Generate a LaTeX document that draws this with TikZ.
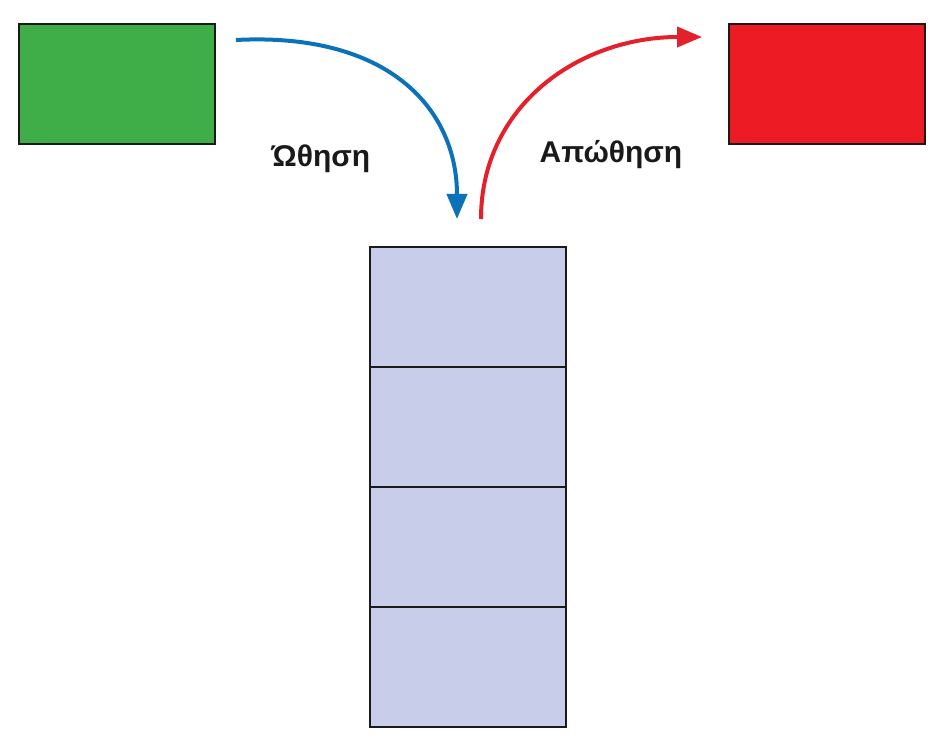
\documentclass[tikz,border=0pt]{standalone}
\usepackage{fontspec}
\setmainfont{Liberation Sans}
\usetikzlibrary{arrows.meta}
\definecolor{boxgreen}{HTML}{3FAE49}
\definecolor{boxred}{HTML}{ED1C24}
\definecolor{arrblue}{HTML}{0B72B9}
\definecolor{arrred}{HTML}{E4202A}
\definecolor{cellfill}{HTML}{C8CDE9}
\definecolor{edge}{HTML}{1A1A1A}
\begin{document}
\begin{tikzpicture}[x=1pt,y=-1pt,
  box/.style={draw=edge,line width=2pt,minimum width=196pt,minimum height=120pt,inner sep=0pt,outer sep=0pt},
  cell/.style={box,fill=cellfill},
  arr/.style={line width=4pt,-{Triangle[length=25pt,width=20pt]}},
  lbl/.style={font=\bfseries\fontsize{30}{35}\selectfont,text=edge}]
\useasboundingbox (0,0) rectangle (946,743);
\node[box,fill=boxgreen] (green) at (117,84) {};
\node[box,fill=boxred] (red) at (827,84) {};
\node[cell] (c1) at (468,307) {};
\node[cell] (c2) at (468,427) {};
\node[cell] (c3) at (468,547) {};
\node[cell] (c4) at (468,667) {};
\coordinate (pushs) at (236,40);
\coordinate (pushe) at (457,219);
\coordinate (pops) at (481,219);
\coordinate (pope) at (702,37);
\draw[arr,arrblue] (pushs) .. controls (390,32) and (457,110) .. (pushe);
\draw[arr,arrred] (pops) .. controls (481,105) and (580,37) .. (pope);
\node[lbl] (push) at (321,159) {Ώθηση};
\node[lbl] (pop) at (611,155) {Απώθηση};
\end{tikzpicture}
\end{document}
